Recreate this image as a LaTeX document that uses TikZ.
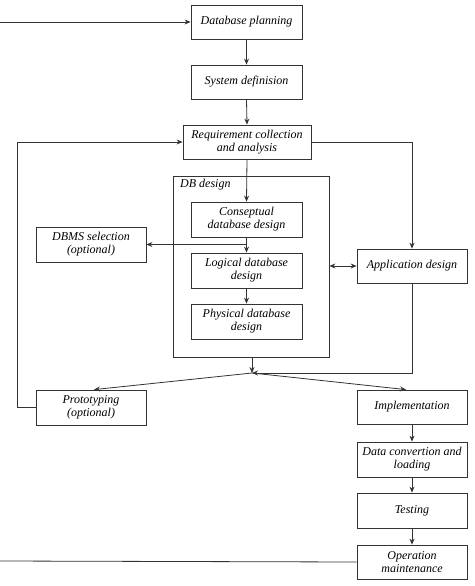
\documentclass[tikz,border=0pt]{standalone}
\usepackage{fontspec}
\setmainfont{Liberation Serif}
\usetikzlibrary{arrows.meta}
\begin{document}
\begin{tikzpicture}[x=1pt,y=-1pt,
  box/.style={draw=black!80, line width=0.8pt, fill=white, minimum width=111pt, minimum height=34pt,
    align=center, inner sep=1pt, font=\fontsize{12}{13}\selectfont\itshape},
  conn/.style={draw=black!80, line width=0.8pt},
  arr/.style={conn, -{Stealth[length=6pt,width=5pt]}},
  darr/.style={conn, {Stealth[length=6pt,width=5pt]}-{Stealth[length=6pt,width=5pt]}}]
\useasboundingbox (0,0) rectangle (474,586);
% DB design container
\node[draw=black!80, line width=0.8pt, minimum width=156pt, minimum height=181pt] (dbd) at (251,266.5) {};
\node[anchor=north west, inner sep=0pt, font=\fontsize{12}{13}\selectfont\itshape] (dbdl) at (180,179) {DB design};
% boxes
\node[box] (plan) at (246.5,22) {Database planning};
\node[box] (sysdef) at (246.5,82) {System definision};
\node[box, minimum width=128pt] (req) at (247,142) {Requirement collection\\and analysis};
\node[box, minimum height=35pt] (consep) at (246.5,219.5) {Conseptual\\database design};
\node[box, minimum height=35pt] (logical) at (246.5,270.5) {Logical database\\design};
\node[box, minimum height=35pt] (physical) at (246.5,321.5) {Physical database\\design};
\node[box, minimum width=110pt, minimum height=35pt] (dbms) at (91,244.5) {DBMS selection\\(optional)};
\node[box, minimum width=110pt] (app) at (412,266) {Application design};
\node[box, minimum width=110pt, minimum height=35pt] (proto) at (91,407.5) {Prototyping\\(optional)};
\node[box, minimum width=110pt] (impl) at (412,407) {Implementation};
\node[box, minimum width=110pt, minimum height=35pt] (dataconv) at (412,459.5) {Data convertion and\\loading};
\node[box, minimum width=110pt, minimum height=35pt] (testing) at (412,510.5) {Testing};
\node[box, minimum width=110pt, minimum height=34pt] (opm) at (412,562) {Operation\\maintenance};
% coordinates
\coordinate (inl) at (0,22);
\coordinate (outl) at (0,561);
\coordinate (br) at (246.5,244.5);
\coordinate (J) at (252,373);
\coordinate (Jr) at (412,373);
\coordinate (reqr) at (412,142);
\coordinate (lt) at (17,142);
\coordinate (lb) at (17,407.5);
% connectors
\draw[arr] (inl) -- (plan.west);
\draw[arr] (plan.south) -- (sysdef.north);
\draw[arr] (sysdef.south) -- (req.north);
\draw[arr] (req.south) -- (consep.north);
\draw[conn] (consep.south) -- (br);
\draw[arr] (br) -- (dbms.east);
\draw[arr] (br) -- (logical.north);
\draw[arr] (logical.south) -- (physical.north);
\draw[darr] (dbd.east |- app.west) -- (app.west);
\draw[arr] (req.east) -- (reqr) -- (app.north);
\draw[arr] (dbd.south -| J) -- (J);
\draw[arr] (app.south) -- (Jr) -- (J);
\draw[arr] (J) -- ([xshift=3pt]proto.north);
\draw[arr] (J) -- ([xshift=-6pt]impl.north);
\draw[arr] (proto.west) -- (lb) -- (lt) -- (req.west);
\draw[arr] (impl.south) -- (dataconv.north);
\draw[arr] (dataconv.south) -- (testing.north);
\draw[arr] (testing.south) -- (opm.north);
\draw[conn] (opm.west) -- (outl);
\end{tikzpicture}
\end{document}
